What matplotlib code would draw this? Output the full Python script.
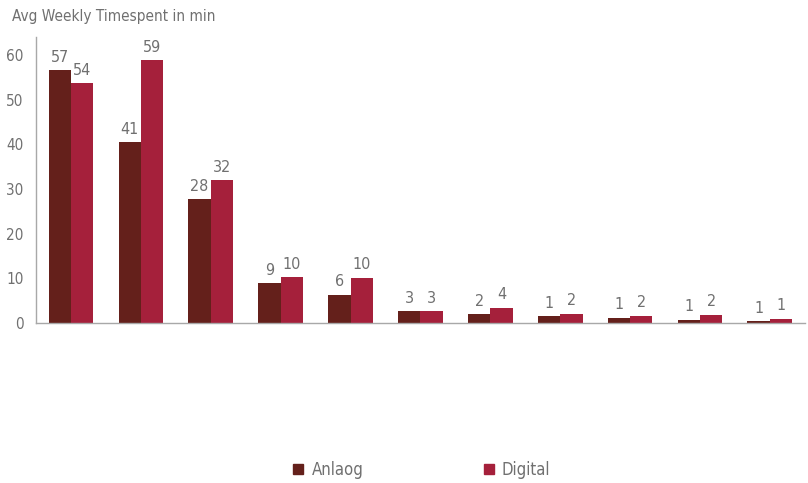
import matplotlib
matplotlib.use("Agg")
import matplotlib.pyplot as plt
import numpy as np
from matplotlib.lines import Line2D

series_names = ["Anlaog", "Digital"]
anlaog = [56.6, 40.5, 27.7, 8.9, 6.3, 2.7, 2.0, 1.5, 1.2, 0.8, 0.4]
digital = [53.7, 58.8, 32.0, 10.3, 10.1, 2.7, 3.4, 2.1, 1.7, 1.9, 1.0]
anlaog_labels = ["57", "41", "28", "9", "6", "3", "2", "1", "1", "1", "1"]
digital_labels = ["54", "59", "32", "10", "10", "3", "4", "2", "2", "2", "1"]
yticks = [0, 10, 20, 30, 40, 50, 60]
title = "Avg Weekly Timespent in min"

c_a = "#64201b"
c_d = "#a5203b"
gray = "#707070"
plt.rcParams['font.family'] = ["DejaVu Sans"]
plt.rcParams['font.stretch'] = "condensed"

fig = plt.figure(figsize=(8.08, 4.83), dpi=100)
ax = fig.add_axes([0.0446, 0.331, 0.9514, 0.592])
x = np.arange(len(anlaog))
w = 0.32
ba = ax.bar(x - w/2, anlaog, w, color=c_a)
bd = ax.bar(x + w/2, digital, w, color=c_d)
for bars, labs in ((ba, anlaog_labels), (bd, digital_labels)):
    for b, l in zip(bars, labs):
        ax.annotate(l, (b.get_x() + b.get_width()/2, b.get_height()),
                    xytext=(0, 4), textcoords="offset points",
                    ha="center", va="bottom", fontsize=11.5, color=gray)
ax.set_xlim(-0.5, 10.5)
ax.set_ylim(0, 64)
ax.set_yticks(yticks)
ax.set_xticks([])
ax.tick_params(axis="y", length=0, labelsize=11, labelcolor=gray, pad=9)
for s in ("top", "right"):
    ax.spines[s].set_visible(False)
for s in ("left", "bottom"):
    ax.spines[s].set_color("#a8a8a8")
    ax.spines[s].set_linewidth(1)
fig.text(12/808, 1 - 17/483, title, fontsize=11, color=gray, va="center", ha="left")

handles = [Line2D([], [], marker="s", linestyle="none", color=c, markersize=7) for c in (c_a, c_d)]
leg = fig.legend(handles, series_names, loc="center", bbox_to_anchor=(0.52, 1 - 470/483),
                 ncol=2, frameon=False, fontsize=12, columnspacing=7, handletextpad=0.3,
                 handlelength=1)
for t in leg.get_texts():
    t.set_color(gray)
fig.savefig("out.png", dpi=100)
